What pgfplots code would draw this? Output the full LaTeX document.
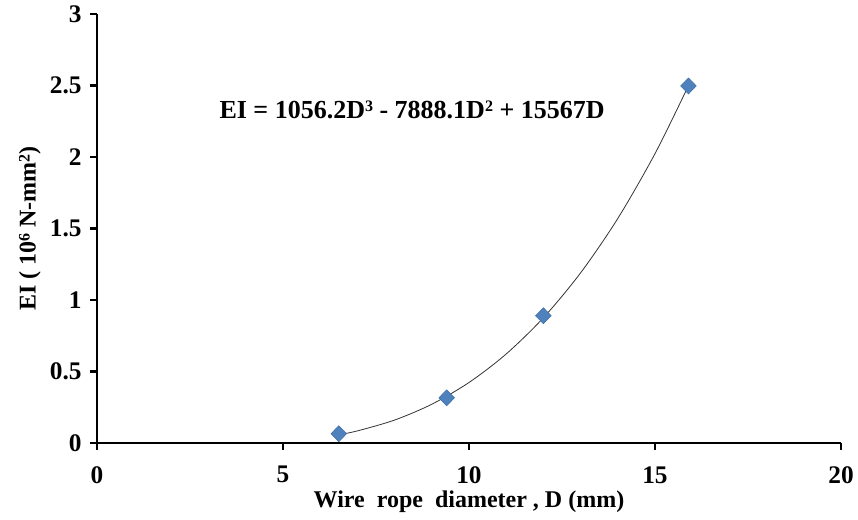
\documentclass[border=0pt]{standalone}
\usepackage{fontspec}
\setmainfont{Liberation Serif}
\usepackage{pgfplots}
\pgfplotsset{compat=1.18}
\definecolor{ptblue}{HTML}{4F81BD}
\definecolor{ptedge}{HTML}{3E6FA8}
\newcommand{\sups}[1]{\raisebox{0.55ex}{\fontsize{12}{12}\selectfont #1}}

\begin{document}
\begin{tikzpicture}
\path[use as bounding box] (-72.75pt,-57pt) rectangle (570.75pt,332.25pt);
\begin{axis}[
  anchor=origin, at={(0,0)},
  scale only axis, width=558pt, height=321.75pt,
  xmin=0, xmax=20, ymin=0, ymax=3,
  xtick={0,5,10,15,20}, ytick={0,0.5,1,1.5,2,2.5,3},
  axis lines*=left,
  axis line style={line width=2pt},
  tick style={line width=2pt, black},
  tick align=outside, major tick length=5pt,
  /pgf/number format/assume math mode=true,
  tick label style={font=\fontsize{19}{21}\selectfont\bfseries},
  xticklabel style={yshift=-9pt},
  yticklabel style={xshift=-3pt},
  xlabel={Wire\ \ rope\ \ diameter , D (mm)},
  ylabel={EI ( 10\sups{6} N-mm\sups{2})},
  label style={font=\fontsize{18}{20}\selectfont\bfseries},
  xlabel style={at={(axis description cs:0.5,0)}, anchor=base, yshift=-48.5pt},
  ylabel style={yshift=0pt},
  clip=false,
]
\addplot[black!80, line width=0.6pt, smooth] coordinates {
  (6.5,0.0580)(7,0.0847)(8,0.1605)(9,0.2711)(10,0.4231)(11,0.6226)
  (12,0.8760)(13,1.1898)(14,1.5701)(15,2.0234)(15.9,2.4989)};
\addplot[only marks, mark=diamond*, mark size=6pt,
  mark options={fill=ptblue, draw=ptedge, line width=0.4pt, xscale=1.3}] coordinates {
  (6.5,0.065)(9.4,0.316)(12,0.89)(15.9,2.497)};
\node[font=\fontsize{19.5}{21}\selectfont\bfseries] at (axis cs:8.47,2.33)
  {EI = 1056.2D\sups{3} - 7888.1D\sups{2} + 15567D};
\end{axis}
\end{tikzpicture}
\end{document}
